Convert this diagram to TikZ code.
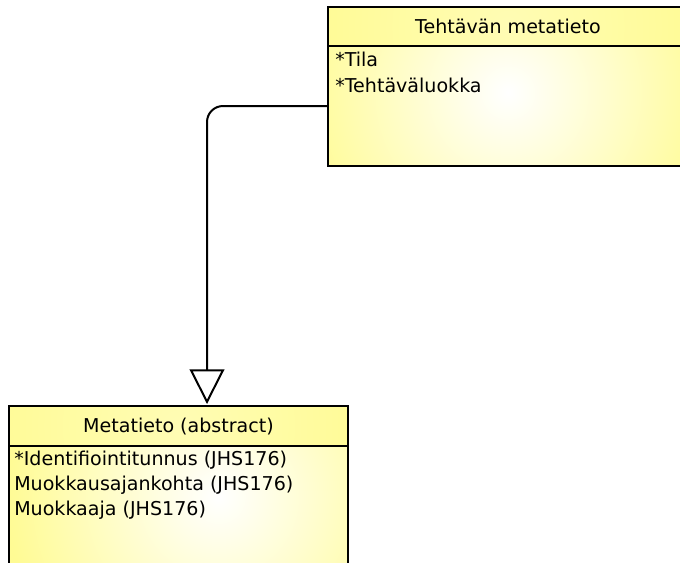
\documentclass[tikz,border=0pt]{standalone}
\usepackage{fontspec}
\setmainfont{DejaVu Sans}
\usetikzlibrary{arrows.meta, positioning}
\definecolor{umlyellow}{RGB}{255, 251, 148}

\begin{document}
\begin{tikzpicture}[x=0.75pt, y=-0.75pt,
        classhead/.style={draw, line width=1.5pt, fill=umlyellow, anchor=north west, inner sep=0pt, font=\fontsize{14.3}{17}\selectfont,
            path picture={\shade[inner color=umlyellow!70!white, outer color=umlyellow] (path picture bounding box.center) circle (150pt);}},
        classbody/.style 2 args={draw, line width=1.5pt, fill=umlyellow, anchor=north west, inner sep=0pt,
            path picture={\shade[inner color=white, outer color=umlyellow] ([xshift=#1, yshift=#2]path picture bounding box.center) circle (160pt);}},
        attr/.style={anchor=west, inner sep=0pt, font=\fontsize{14.3}{17}\selectfont},
        gen/.style={line width=1.5pt, rounded corners=12pt, -{Triangle[open, length=26pt, width=26pt]}}]
    \useasboundingbox (0,0) rectangle (680,562);
    \clip (0,0) rectangle (680,562);
    % Tehtävän metatieto
    \node[classbody={0pt}{10pt}, minimum width=270pt, minimum height=90pt] (tehtBody) at (327,45) {};
    \node[classhead, minimum width=270pt, minimum height=29.25pt] (tehtHead) at (327,6) {Tehtävän metatieto};
    \node[attr] (tila) at (335,59) {*Tila};
    \node[attr] (luokka) at (335,85) {*Tehtäväluokka};
    % Metatieto (abstract)
    \node[classbody={30pt}{22pt}, minimum width=254.25pt, minimum height=120pt] (metaBody) at (8,445) {};
    \node[classhead, minimum width=254.25pt, minimum height=30pt] (metaHead) at (8,405) {Metatieto (abstract)};
    \node[attr] (ident) at (14,460) {*Identifiointitunnus (JHS176)};
    \node[attr] (aika) at (14,485) {Muokkausajankohta (JHS176)};
    \node[attr] (tekija) at (14,510) {Muokkaaja (JHS176)};
    % yleistys
    \coordinate (genTip) at (207,404);
    \draw[gen] (tehtBody.west) -| (genTip);
\end{tikzpicture}
\end{document}
